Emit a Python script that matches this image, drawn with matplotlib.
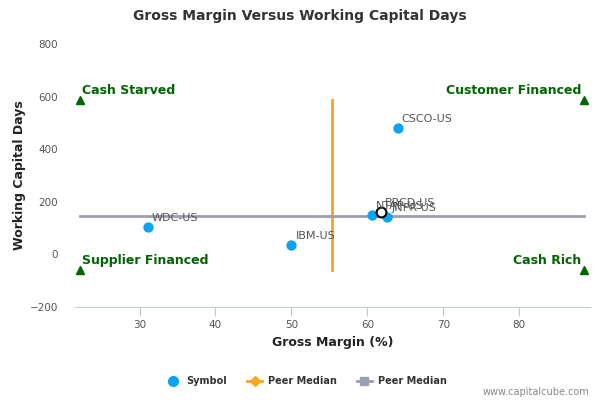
import matplotlib
matplotlib.use("Agg")
import matplotlib.pyplot as plt
from matplotlib.lines import Line2D

# ---- data ----
symbols = ["WDC-US", "IBM-US", "NTAP-US", "JNPR-US", "CSCO-US"]
gross_margin = [31.1, 50.0, 60.6, 62.6, 64.0]
wc_days = [103, 35, 150, 141, 479]

focus_symbol = "BRCD-US"
focus_margin = 61.8
focus_days = 161

median_margin = 55.4
median_days = 145

quad_x = [22.1, 88.5]
quad_y = [-59, 588]
quad_labels = {"Cash Starved": (0, 1), "Customer Financed": (1, 1),
               "Supplier Financed": (0, 0), "Cash Rich": (1, 0)}

x_ticks = [30, 40, 50, 60, 70, 80]
y_ticks = [-200, 0, 200, 400, 600, 800]

blue = "#0da2f2"
orange = "#f8a51e"
gray = "#9b9fae"
green = "#006400"

fig = plt.figure(figsize=(6, 4), dpi=100)
ax = fig.add_axes([0.125, 0.2325, 0.858, 0.6575])

ax.set_xlim(21.5, 89.3)
ax.set_ylim(-200, 800)

# median lines
ax.plot([median_margin, median_margin], quad_y, color=orange, lw=2, zorder=2)
ax.plot(quad_x, [median_days, median_days], color=gray, lw=2, zorder=3)

# quadrant markers
for name, (ix, iy) in quad_labels.items():
    xv, yv = quad_x[ix], quad_y[iy]
    ax.plot([xv], [yv], marker="^", color=green, ms=6, ls="none", zorder=4)
    if ix == 0:
        ax.annotate(name, (xv, yv), xytext=(2, 2), textcoords="offset points",
                    ha="left", va="bottom", color=green, fontsize=9,
                    fontweight="bold")
    else:
        ax.annotate(name, (xv, yv), xytext=(-2, 2), textcoords="offset points",
                    ha="right", va="bottom", color=green, fontsize=9,
                    fontweight="bold")

# points
ax.scatter(gross_margin, wc_days, s=55, color=blue, zorder=5, linewidths=0)
ax.scatter([focus_margin], [focus_days], s=50, facecolor="white",
           edgecolor="black", linewidths=1.5, zorder=6)

for s, xv, yv in zip(symbols + [focus_symbol], gross_margin + [focus_margin],
                     wc_days + [focus_days]):
    ax.annotate(s, (xv, yv), xytext=(3, 3), textcoords="offset points",
                ha="left", va="bottom", color="#555555", fontsize=8, zorder=7)

# axes style
for sp in ["top", "right", "left"]:
    ax.spines[sp].set_visible(False)
ax.spines["bottom"].set_color("#c0cbd8")
ax.set_xticks(x_ticks)
ax.set_yticks(y_ticks)
ax.tick_params(axis="x", colors="#c0cbd8", length=6.5, labelcolor="#555555",
               labelsize=7.5, pad=3)
ax.tick_params(axis="y", length=0, labelcolor="#555555", labelsize=7.5, pad=12)

ax.set_xlabel("Gross Margin (%)", fontsize=9, fontweight="bold", color="#222222",
              labelpad=4)
ax.set_ylabel("Working Capital Days", fontsize=9, fontweight="bold",
              color="#222222", labelpad=3)

fig.text(0.5, 0.96, "Gross Margin Versus Working Capital Days", ha="center",
         va="center", fontsize=10, fontweight="bold", color="#333333")

handles = [
    Line2D([], [], marker="o", color=blue, ls="none", ms=7),
    Line2D([], [], marker="D", color=orange, lw=2, ms=5),
    Line2D([], [], marker="s", color=gray, lw=2, ms=6),
]
leg = fig.legend(handles, ["Symbol", "Peer Median", "Peer Median"], loc="center",
                 bbox_to_anchor=(0.51, 0.047), ncol=3, frameon=False,
                 fontsize=7, handlelength=1.6, columnspacing=2.0,
                 handletextpad=0.6)
for t in leg.get_texts():
    t.set_fontweight("bold")
    t.set_color("#333333")

fig.text(0.983, 0.02, "www.capitalcube.com", ha="right", va="center",
         fontsize=7, color="#888888")

fig.savefig("out.png", dpi=100)
